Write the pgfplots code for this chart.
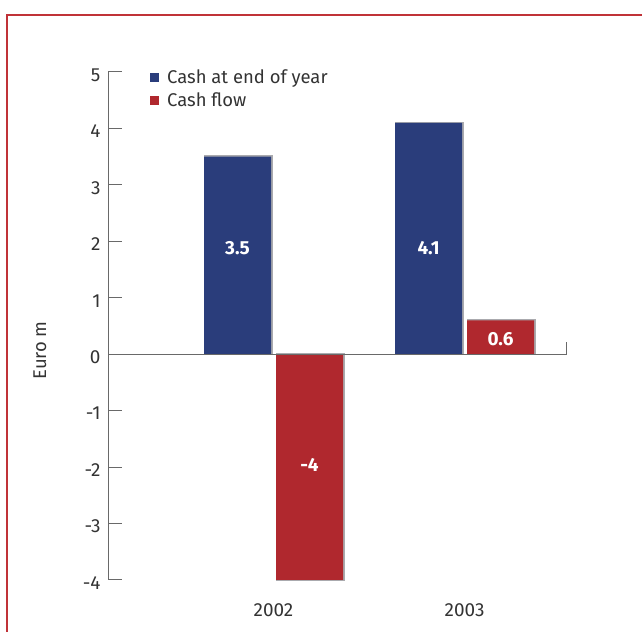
\documentclass[border=0pt]{standalone}
\usepackage{fontspec}
\setmainfont{Fira Sans}
\usepackage{pgfplots}
\pgfplotsset{compat=1.18}
\definecolor{cashblue}{RGB}{42,61,123}
\definecolor{flowred}{RGB}{176,40,46}
\definecolor{shadowgray}{RGB}{170,170,174}
\definecolor{framered}{RGB}{192,50,56}
\definecolor{axisgray}{RGB}{105,105,105}
\definecolor{textgray}{RGB}{51,51,51}

\tikzset{barshadow/.style={preaction={draw=shadowgray, fill=shadowgray, line width=2.4bp, transform canvas={xshift=1.2bp}}}}

\begin{document}
\begin{tikzpicture}[x=1bp,y=1bp]
\useasboundingbox (0,0) rectangle (642,632);
% page frame
\draw[framered, line width=2.5bp] (7,0) -- (7,617) -- (642,617);
\begin{axis}[
  at={(108bp,52bp)}, anchor=south west,
  scale only axis, width=458bp, height=508bp,
  xmin=-0.8665, xmax=1.531, ymin=-4, ymax=5,
  clip=false,
  axis y line=left, axis x line=bottom,
  x axis line style={draw=none},
  y axis line style={-, axisgray, line width=1bp},
  xtick={0,1}, xticklabels={2002,2003},
  xtick style={draw=none},
  ytick={-4,-3,...,5},
  ytick style={axisgray, line width=1bp},
  tick align=inside, major tick length=14bp,
  font=\fontsize{18.5}{22}\selectfont,
  tick label style={text=textgray, font=\fontsize{19}{22}\selectfont},
  /pgf/number format/assume math mode=true,
  xticklabel style={yshift=-6bp},
  yticklabel style={yshift=-3bp, xshift=-4bp},
  ylabel={Euro m},
  every axis y label/.style={at={(axis description cs:-0.1485,0.452)}, rotate=90, anchor=center, text=textgray},
  ybar, bar width=67bp,
  legend style={at={(axis description cs:0.0917,1.0085)}, anchor=north west,
    draw=none, fill=none, inner sep=0pt, row sep=4bp, column sep=6bp, text=textgray,
    font=\fontsize{18.5}{22}\selectfont, cells={anchor=west}},
]
\addplot[fill=cashblue, draw=none, barshadow, bar shift=-36bp, forget plot] coordinates {(0,3.5) (1,4.1)};
\addplot[fill=flowred, draw=none, barshadow, bar shift=36bp, forget plot] coordinates {(0,-4) (1,0.6)};

\addlegendimage{draw=none, legend image code/.code={\fill[cashblue] (0bp,-4.5bp) rectangle (9bp,4.5bp);}}
\addlegendentry{Cash at end of year}
\addlegendimage{draw=none, legend image code/.code={\fill[flowred] (0bp,-4.5bp) rectangle (9bp,4.5bp);}}
\addlegendentry{Cash flow}

% zero line with its closing tick
\draw[axisgray, line width=1bp] (axis cs:-0.8665,0) -- (axis cs:1.531,0) -- (axis cs:1.531,0.21);

% value labels inside the bars
\begin{scope}[every node/.style={text=white, font=\fontsize{19}{22}\selectfont\bfseries}]
\node[xshift=-36bp] at (axis cs:0,1.88) {3.5};
\node[xshift=36bp] at (axis cs:0,-1.96) {-4};
\node[xshift=-36bp] at (axis cs:1,1.88) {4.1};
\node[xshift=36bp] at (axis cs:1,0.27) {0.6};
\end{scope}
\end{axis}
\end{tikzpicture}
\end{document}
